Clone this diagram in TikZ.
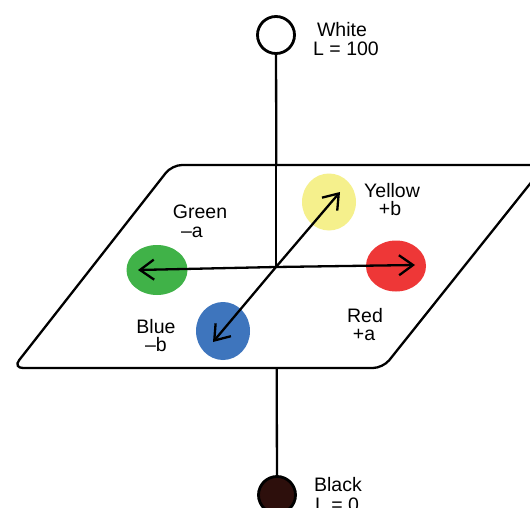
\documentclass[tikz,border=0pt]{standalone}
\usepackage{fontspec}
\setmainfont{Liberation Sans}
\usetikzlibrary{shapes.geometric,arrows.meta}
\definecolor{cgreen}{RGB}{64,178,72}
\definecolor{cred}{RGB}{238,55,55}
\definecolor{cyellow}{RGB}{245,240,140}
\definecolor{cblue}{RGB}{62,117,189}
\definecolor{cblack}{RGB}{45,15,12}
\begin{document}
\begin{tikzpicture}[x=1pt,y=-1pt,
  line width=2.3pt,
  lbl/.style={anchor=base,inner sep=0pt,font=\fontsize{19.5}{22}\selectfont},
  pole/.style={circle,draw,line width=2.8pt,minimum size=37pt,inner sep=0pt},
  blob/.style={ellipse,inner sep=0pt,draw=none},
  axis/.style={-{Straight Barb[length=14pt,width=20pt,line width=2.3pt]},line width=2.3pt}]
\useasboundingbox (0,0) rectangle (530,508);
\clip (0,0) rectangle (530,508);
\fill[white] (0,0) rectangle (530,508);
% poles
\node[pole,fill=white] (W) at (276,35) {};
\node[pole,fill=cblack] (K) at (277,495) {};
\coordinate (O) at (276,267);
\draw (W) -- (K);
% plane
\draw[fill=white,rounded corners=10pt] (172,165) -- (545,165) -- (383,368) -- (13,368) -- cycle;
\draw (W) -- (O);
% colour blobs
\node[blob,fill=cyellow,minimum width=54pt,minimum height=57pt] (Y) at (329,202) {};
\node[blob,fill=cgreen,minimum width=61pt,minimum height=50pt] (G) at (157,270) {};
\node[blob,fill=cred,minimum width=60pt,minimum height=51pt] (R) at (396,266) {};
\node[blob,fill=cblue,minimum width=54pt,minimum height=58pt] (B) at (223,331) {};
% arrow tips
\coordinate (tG) at (138,270);
\coordinate (tR) at (415,265);
\coordinate (tY) at (340,192);
\coordinate (tB) at (213,342);
\draw[axis] (O) -- (tG);
\draw[axis] (O) -- (tR);
\draw[axis] (O) -- (tY);
\draw[axis] (O) -- (tB);
% labels
\node[lbl] (lw1) at (342,37) {White};
\node[lbl] (lw2) at (346,56) {L = 100};
\node[lbl] (lk1) at (338,491) {Black};
\node[lbl,anchor=base west] (lk2) at (314,511) {L = 0};
\node[lbl] (lg1) at (200,218) {Green};
\node[lbl] (lg2) at (192,237) {–a};
\node[lbl] (ly1) at (392,197) {Yellow};
\node[lbl] (ly2) at (390,215) {+b};
\node[lbl] (lb1) at (156,333) {Blue};
\node[lbl] (lb2) at (156,351) {–b};
\node[lbl] (lr1) at (365,322) {Red};
\node[lbl] (lr2) at (364,340) {+a};
\end{tikzpicture}
\end{document}
